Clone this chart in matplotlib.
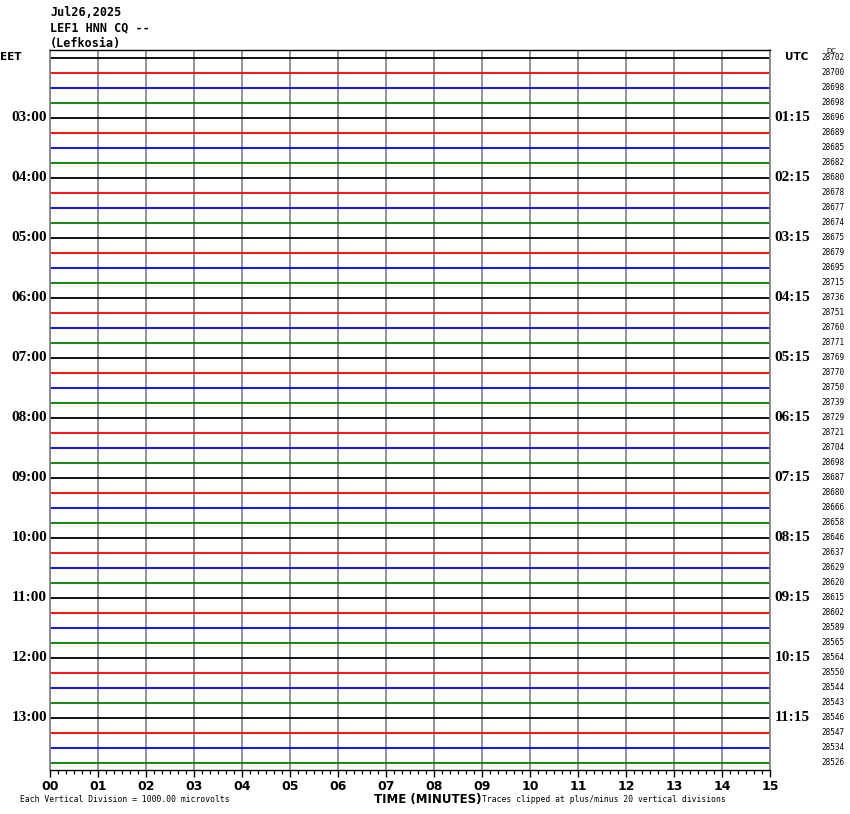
import matplotlib
matplotlib.use("Agg")
import matplotlib.pyplot as plt

# ---- data ----
title_lines = ["Jul26,2025", "LEF1 HNN CQ --", "(Lefkosia)"]
left_tz = "EET"
right_tz = "UTC"
left_hour_labels = ["03:00", "04:00", "05:00", "06:00", "07:00", "08:00",
                    "09:00", "10:00", "11:00", "12:00", "13:00"]
right_hour_labels = ["01:15", "02:15", "03:15", "04:15", "05:15", "06:15",
                     "07:15", "08:15", "09:15", "10:15", "11:15"]
dc_values = [28702, 28700, 28698, 28698, 28696, 28689, 28685, 28682,
             28680, 28678, 28677, 28674, 28675, 28679, 28695, 28715,
             28736, 28751, 28760, 28771, 28769, 28770, 28750, 28739,
             28729, 28721, 28704, 28698, 28687, 28680, 28666, 28658,
             28646, 28637, 28629, 28620, 28615, 28602, 28589, 28565,
             28564, 28550, 28544, 28543, 28546, 28547, 28534, 28526]
trace_colors = ["black", "red", "blue", "#008000"]
minute_ticks = list(range(16))
minute_labels = ["%02d" % m for m in minute_ticks]
footer_left = "Each Vertical Division = 1000.00 microvolts"
footer_mid = "TIME (MINUTES)"
footer_right = "Traces clipped at plus/minus 20 vertical divisions"

n_rows = len(dc_values)

W, H = 850, 814
fig = plt.figure(figsize=(W / 100, H / 100), dpi=100)
x0, x1, y0, y1 = 50, 770, 50, 770
ax = fig.add_axes([x0 / W, 1 - y1 / H, (x1 - x0) / W, (y1 - y0) / H])
ax.set_xlim(0, 15)
ax.set_ylim(n_rows, 0)

for m in minute_ticks:
    ax.axvline(m, color="#808080", lw=1.2, zorder=1)

for i in range(n_rows):
    ax.plot([0, 15], [i + 0.5, i + 0.5], color=trace_colors[i % 4],
            lw=1.3, solid_capstyle="butt", zorder=2)

for s in ["left", "right"]:
    ax.spines[s].set_color("#808080")
    ax.spines[s].set_linewidth(1.2)
for s in ["top", "bottom"]:
    ax.spines[s].set_color("black")
    ax.spines[s].set_linewidth(1.0)

ax.set_yticks([])
ax.set_xticks(minute_ticks)
ax.set_xticklabels(minute_labels, fontsize=9, fontweight="bold",
                   family="DejaVu Sans")
ax.set_xticks([m / 6 for m in range(0, 91)], minor=True)
ax.tick_params(axis="x", which="major", length=5, width=1, direction="out", pad=2)
ax.tick_params(axis="x", which="minor", length=3, width=1, direction="out")

def fx(px):
    return px / W

def fy(py):
    return 1 - py / H

# title
for k, t in enumerate(title_lines):
    fig.text(fx(50), fy(12 + 15.5 * k), t, fontsize=8.5, fontweight="bold",
             family="DejaVu Sans Mono", va="center", ha="left")

fig.text(fx(0), fy(57), left_tz, fontsize=7.5, fontweight="bold",
         family="DejaVu Sans", va="center", ha="left")
fig.text(fx(785), fy(57), right_tz, fontsize=7.5, fontweight="bold",
         family="DejaVu Sans", va="center", ha="left")
fig.text(fx(826), fy(51), "DC", fontsize=5, family="DejaVu Sans",
         va="center", ha="left")

for k, lab in enumerate(left_hour_labels):
    row = 4 * (k + 1)
    ax.text(-0.06, row + 0.5, lab, fontsize=11, fontweight="bold",
            family="Liberation Serif", va="center", ha="right",
            clip_on=False)
for k, lab in enumerate(right_hour_labels):
    row = 4 * (k + 1)
    ax.text(15.1, row + 0.5, lab, fontsize=11, fontweight="bold",
            family="Liberation Serif", va="center", ha="left",
            clip_on=False)
for i, v in enumerate(dc_values):
    ax.text(16.08, i + 0.5, str(v), fontsize=5.5, family="DejaVu Sans Mono",
            va="center", ha="left", clip_on=False)

fig.text(fx(20), fy(800), footer_left, fontsize=5.8, family="DejaVu Sans Mono",
         va="center", ha="left")
fig.text(fx(374), fy(799), footer_mid, fontsize=8.5, fontweight="bold",
         family="DejaVu Sans", va="center", ha="left")
fig.text(fx(482), fy(800), footer_right, fontsize=5.8, family="DejaVu Sans Mono",
         va="center", ha="left")

fig.savefig("out.png", dpi=100, facecolor="white")
